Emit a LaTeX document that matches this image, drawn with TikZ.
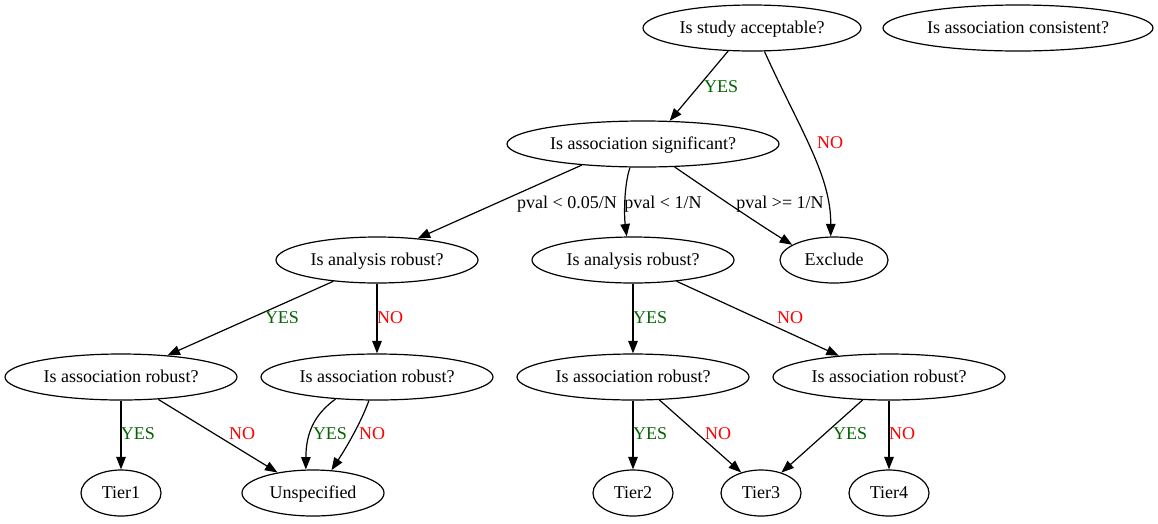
\documentclass[tikz,border=0pt]{standalone}
\usepackage{fontspec}
\setmainfont{Liberation Serif}
\usetikzlibrary{shapes.geometric,arrows.meta}
\definecolor{dgreen}{HTML}{006400}
\tikzset{
  q/.style={draw, ellipse, line width=1.2pt, inner sep=0pt, minimum height=46pt, text height=11.5pt, text depth=0pt, font=\fontsize{18}{21}\selectfont},
  edge/.style={line width=1.2pt, -{Triangle[length=12.5pt,width=9.5pt]}},
  lab/.style={inner sep=0pt, text height=11.5pt, text depth=0pt, font=\fontsize{18}{21}\selectfont},
  yes/.style={lab, text=dgreen},
  no/.style={lab, text=red}
}
\begin{document}
\begin{tikzpicture}[x=1pt,y=-1pt]
\useasboundingbox (0,0) rectangle (1158,523);
% nodes
\node[q, minimum width=218pt] (A) at (752,28) {Is study acceptable?};
\node[q, minimum width=270pt] (C) at (1018,28) {Is association consistent?};
\node[q, minimum width=272pt] (S) at (643,144) {Is association significant?};
\node[q, minimum width=202pt] (R1) at (377,260) {Is analysis robust?};
\node[q, minimum width=202pt] (R2) at (633,260) {Is analysis robust?};
\node[q, minimum width=108pt] (Ex) at (834,260) {Exclude};
\node[q, minimum width=232pt] (AR1) at (121,377) {Is association robust?};
\node[q, minimum width=232pt] (AR2) at (377,377) {Is association robust?};
\node[q, minimum width=232pt] (AR3) at (633,377) {Is association robust?};
\node[q, minimum width=232pt] (AR4) at (889,377) {Is association robust?};
\node[q, minimum width=80pt] (T1) at (121,493) {Tier1};
\node[q, minimum width=142pt] (U) at (313,493) {Unspecified};
\node[q, minimum width=80pt] (T2) at (633,493) {Tier2};
\node[q, minimum width=80pt] (T3) at (761,493) {Tier3};
\node[q, minimum width=80pt] (T4) at (889,493) {Tier4};
% edges
\draw[edge] (A.224) -- (S.41);
\draw[edge] (A.298) .. controls (800,130) and (831,175) .. (Ex.98);
\draw[edge] (S.199) -- (R1.28);
\draw[edge] (S.241) .. controls (624,185) and (624,215) .. (R2.105);
\draw[edge] (S.324) .. controls (720,198) and (760,225) .. (Ex.160);
\draw[edge] (R1.206) -- (AR1.25);
\draw[edge] (R1.south) -- (AR2.north);
\draw[edge] (R2.south) -- (AR3.north);
\draw[edge] (R2.334) -- (AR4.157);
\draw[edge] (AR1.south) -- (T1.north);
\draw[edge] (AR1.329) -- (U.150);
\draw[edge] (AR2.208) .. controls (315,414) and (306,432) .. (U.107);
\draw[edge] (AR2.251) .. controls (362,420) and (348,445) .. (U.51);
\draw[edge] (AR3.south) -- (T2.north);
\draw[edge] (AR3.319) -- (T3.134);
\draw[edge] (AR4.221) -- (T3.45);
\draw[edge] (AR4.south) -- (T4.north);
% labels
\node[yes] (l1) at (721,87) {YES};
\node[no]  (l2) at (830,143) {NO};
\node[lab] (l3) at (567,203) {pval < 0.05/N};
\node[lab] (l4) at (663,203) {pval < 1/N};
\node[lab] (l5) at (780,203) {pval >= 1/N};
\node[yes] (l6) at (282,318) {YES};
\node[no]  (l7) at (390,318) {NO};
\node[yes] (l8) at (650,318) {YES};
\node[no]  (l9) at (790,318) {NO};
\node[yes] (l10) at (138,434) {YES};
\node[no]  (l11) at (242,434) {NO};
\node[yes] (l12) at (330,434) {YES};
\node[no]  (l13) at (372,434) {NO};
\node[yes] (l14) at (650,434) {YES};
\node[no]  (l15) at (718,434) {NO};
\node[yes] (l16) at (850,434) {YES};
\node[no]  (l17) at (902,434) {NO};
\end{tikzpicture}
\end{document}
